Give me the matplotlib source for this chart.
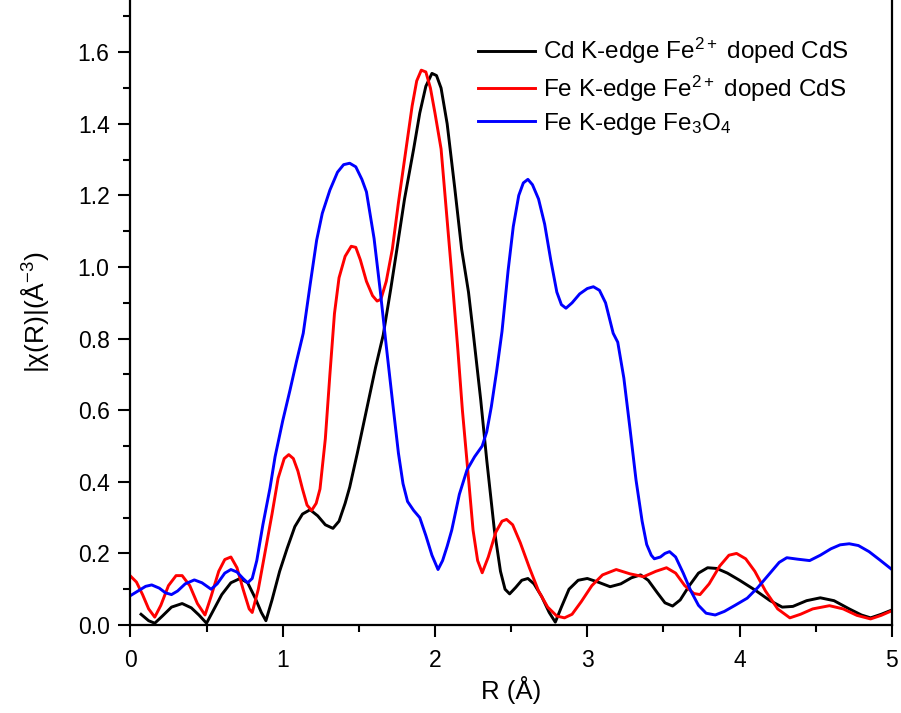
import matplotlib
matplotlib.use("Agg")
import matplotlib.pyplot as plt
from matplotlib.ticker import MultipleLocator

plt.rcParams['font.family'] = ['Liberation Sans', 'DejaVu Sans']
plt.rcParams['mathtext.fontset'] = 'custom'
plt.rcParams['mathtext.rm'] = 'Liberation Sans'
plt.rcParams['mathtext.it'] = 'Liberation Sans:italic'

# Cd K-edge, Fe2+ doped CdS
cd_r = [0.07, 0.12, 0.16, 0.21, 0.27, 0.34, 0.40, 0.45, 0.50, 0.55, 0.60, 0.66,
        0.72, 0.77, 0.82, 0.86, 0.89, 0.93, 0.98, 1.03, 1.08, 1.13, 1.18, 1.23,
        1.28, 1.33, 1.37, 1.41, 1.44, 1.49, 1.55, 1.61, 1.66, 1.71, 1.75, 1.80,
        1.86, 1.90, 1.94, 1.98, 2.01, 2.04, 2.08, 2.13, 2.175, 2.22, 2.25, 2.30,
        2.34, 2.39, 2.43, 2.46, 2.49, 2.53, 2.57, 2.61, 2.65, 2.70, 2.75, 2.79,
        2.83, 2.88, 2.94, 3.00, 3.07, 3.15, 3.22, 3.29, 3.35, 3.40, 3.46, 3.51,
        3.56, 3.61, 3.67, 3.73, 3.79, 3.85, 3.92, 4.00, 4.10, 4.20, 4.28, 4.35,
        4.44, 4.53, 4.62, 4.72, 4.80, 4.86, 4.93, 5.00]
cd_chi = [0.030, 0.012, 0.005, 0.025, 0.050, 0.060, 0.048, 0.028, 0.005, 0.045, 0.085, 0.118,
          0.130, 0.118, 0.075, 0.035, 0.012, 0.070, 0.150, 0.215, 0.275, 0.310, 0.322, 0.305,
          0.280, 0.270, 0.290, 0.340, 0.385, 0.480, 0.600, 0.720, 0.810, 0.940, 1.050, 1.190,
          1.330, 1.430, 1.505, 1.541, 1.535, 1.500, 1.400, 1.220, 1.050, 0.930, 0.820, 0.630,
          0.460, 0.265, 0.150, 0.100, 0.087, 0.105, 0.125, 0.130, 0.115, 0.080, 0.035, 0.008,
          0.050, 0.100, 0.125, 0.130, 0.120, 0.107, 0.115, 0.132, 0.140, 0.125, 0.090, 0.062,
          0.053, 0.070, 0.110, 0.145, 0.160, 0.158, 0.145, 0.125, 0.098, 0.068, 0.050, 0.052,
          0.068, 0.076, 0.068, 0.045, 0.028, 0.020, 0.030, 0.042]

# Fe K-edge, Fe2+ doped CdS
fe_r = [0.00, 0.04, 0.08, 0.12, 0.16, 0.20, 0.25, 0.30, 0.34, 0.39, 0.44, 0.49,
        0.53, 0.58, 0.62, 0.66, 0.70, 0.74, 0.78, 0.80, 0.84, 0.87, 0.90, 0.93,
        0.97, 1.01, 1.04, 1.07, 1.10, 1.13, 1.16, 1.19, 1.22, 1.245, 1.28, 1.31,
        1.34, 1.37, 1.41, 1.45, 1.48, 1.51, 1.55, 1.59, 1.62, 1.645, 1.68, 1.72,
        1.76, 1.81, 1.85, 1.88, 1.91, 1.94, 1.97, 2.00, 2.04, 2.08, 2.11, 2.15,
        2.18, 2.22, 2.25, 2.28, 2.31, 2.35, 2.40, 2.44, 2.47, 2.51, 2.56, 2.62,
        2.68, 2.74, 2.80, 2.85, 2.90, 2.96, 3.03, 3.10, 3.19, 3.28, 3.37, 3.45,
        3.52, 3.58, 3.64, 3.70, 3.74, 3.80, 3.87, 3.93, 3.98, 4.04, 4.10, 4.17,
        4.25, 4.33, 4.40, 4.48, 4.59, 4.68, 4.77, 4.86, 4.93, 5.00]
fe_chi = [0.137, 0.120, 0.085, 0.045, 0.022, 0.055, 0.110, 0.138, 0.138, 0.110, 0.060, 0.028,
          0.080, 0.150, 0.183, 0.190, 0.160, 0.100, 0.045, 0.035, 0.100, 0.170, 0.240, 0.310,
          0.410, 0.465, 0.476, 0.465, 0.430, 0.380, 0.335, 0.320, 0.340, 0.380, 0.520, 0.700,
          0.870, 0.970, 1.030, 1.058, 1.055, 1.020, 0.960, 0.920, 0.905, 0.910, 0.960, 1.050,
          1.180, 1.330, 1.450, 1.520, 1.550, 1.545, 1.500, 1.430, 1.330, 1.130, 0.980, 0.770,
          0.600, 0.410, 0.265, 0.180, 0.146, 0.190, 0.260, 0.290, 0.295, 0.280, 0.230, 0.160,
          0.095, 0.050, 0.025, 0.020, 0.030, 0.065, 0.110, 0.140, 0.155, 0.143, 0.135, 0.150,
          0.160, 0.145, 0.110, 0.088, 0.085, 0.115, 0.165, 0.195, 0.200, 0.185, 0.150, 0.095,
          0.045, 0.020, 0.030, 0.045, 0.054, 0.045, 0.027, 0.017, 0.027, 0.040]

# Fe K-edge, Fe3O4 reference
fe3o4_r = [0.00, 0.05, 0.10, 0.14, 0.19, 0.23, 0.27, 0.31, 0.36, 0.42, 0.47, 0.53,
           0.57, 0.62, 0.66, 0.70, 0.74, 0.77, 0.80, 0.83, 0.87, 0.917, 0.95, 1.00,
           1.048, 1.09, 1.135, 1.18, 1.223, 1.26, 1.31, 1.36, 1.40, 1.44, 1.48, 1.52,
           1.55, 1.60, 1.64, 1.68, 1.725, 1.76, 1.79, 1.82, 1.86, 1.90, 1.94, 1.98,
           2.02, 2.05, 2.08, 2.11, 2.16, 2.21, 2.26, 2.31, 2.34, 2.37, 2.405, 2.44,
           2.48, 2.514, 2.55, 2.58, 2.61, 2.64, 2.68, 2.72, 2.76, 2.80, 2.83, 2.86,
           2.90, 2.95, 3.00, 3.04, 3.08, 3.12, 3.17, 3.20, 3.24, 3.28, 3.32, 3.36,
           3.39, 3.42, 3.44, 3.48, 3.51, 3.54, 3.58, 3.63, 3.68, 3.73, 3.78, 3.84,
           3.90, 3.97, 4.05, 4.12, 4.20, 4.26, 4.31, 4.38, 4.46, 4.53, 4.60, 4.66,
           4.72, 4.78, 4.85, 4.92, 5.00]
fe3o4_chi = [0.082, 0.095, 0.108, 0.112, 0.103, 0.090, 0.085, 0.095, 0.115, 0.126, 0.118, 0.100,
             0.115, 0.145, 0.155, 0.148, 0.130, 0.118, 0.130, 0.180, 0.280, 0.383, 0.470, 0.570,
             0.656, 0.735, 0.815, 0.950, 1.075, 1.150, 1.215, 1.265, 1.286, 1.290, 1.280, 1.245,
             1.210, 1.080, 0.936, 0.780, 0.610, 0.480, 0.395, 0.345, 0.320, 0.300, 0.250, 0.195,
             0.155, 0.180, 0.220, 0.265, 0.365, 0.433, 0.470, 0.500, 0.540, 0.610, 0.710, 0.820,
             0.990, 1.113, 1.200, 1.235, 1.245, 1.230, 1.190, 1.120, 1.020, 0.930, 0.895, 0.885,
             0.900, 0.925, 0.940, 0.945, 0.935, 0.900, 0.815, 0.790, 0.690, 0.550, 0.405, 0.290,
             0.225, 0.195, 0.185, 0.190, 0.200, 0.205, 0.190, 0.145, 0.095, 0.055, 0.033, 0.028,
             0.038, 0.055, 0.075, 0.105, 0.145, 0.175, 0.188, 0.184, 0.180, 0.195, 0.213, 0.224,
             0.227, 0.222, 0.205, 0.182, 0.155]

labels = ['Cd K-edge Fe$^{2+}$ doped CdS',
          'Fe K-edge Fe$^{2+}$ doped CdS',
          'Fe K-edge Fe$_3$O$_4$']

fig = plt.figure(figsize=(9.01, 7.13), dpi=100)
ax = fig.add_axes([0.1447, 0.1234, 0.8452, 0.8766])

lw = 2.1
ax.plot(cd_r, cd_chi, color='black', lw=lw, label=labels[0])
ax.plot(fe_r, fe_chi, color='red', lw=lw, label=labels[1])
ax.plot(fe3o4_r, fe3o4_chi, color='blue', lw=lw, label=labels[2])

ax.set_xlim(0, 5)
ax.set_ylim(0, 1.746)
ax.xaxis.set_major_locator(MultipleLocator(1))
ax.xaxis.set_minor_locator(MultipleLocator(0.5))
ax.yaxis.set_major_locator(MultipleLocator(0.2))
ax.yaxis.set_minor_locator(MultipleLocator(0.1))
ax.yaxis.set_major_formatter(plt.FormatStrFormatter('%.1f'))

ax.spines['top'].set_visible(False)
ax.tick_params(which='both', direction='out', width=1.5, labelsize=16.5, pad=6.5)
ax.tick_params(which='major', length=8.5)
ax.tick_params(which='minor', length=5)
ax.tick_params(axis='x', pad=9)
for s in ax.spines.values():
    s.set_linewidth(1.6)

ax.set_xlabel('R (Å)', fontsize=18.5, labelpad=3)
ax.set_ylabel('|χ(R)|(Å$^{-3}$)', fontsize=19, labelpad=19)

fig.legend(loc='upper left', frameon=False, fontsize=17.5, handlelength=2.35,
           handletextpad=0.33, labelspacing=0.3, borderpad=0, borderaxespad=0,
           bbox_to_anchor=(478 / 901, 1 - 36 / 713))

fig.savefig('out.png', dpi=100)
